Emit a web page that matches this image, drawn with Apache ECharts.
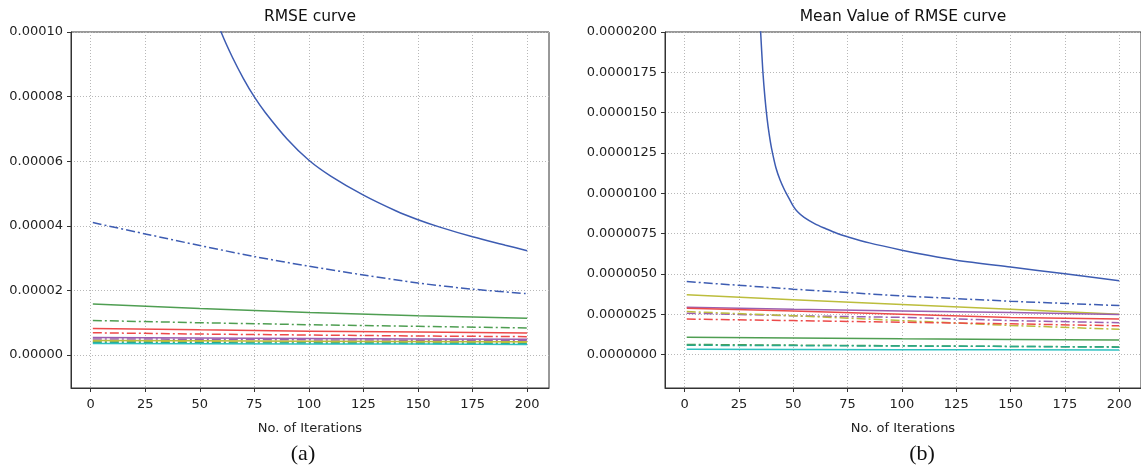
<!DOCTYPE html>
<html>
<head>
<meta charset="utf-8">
<script src="https://cdn.jsdelivr.net/npm/echarts@6/dist/echarts.min.js"></script>
<style>html,body{margin:0;padding:0;background:#fff}#c{width:1141px;height:470px}</style>
</head>
<body>
<div id="c"></div>
<script>
// ---------- data ----------
const xTicks = [0, 25, 50, 75, 100, 125, 150, 175, 200];
const leftYTicks = [0, 0.00002, 0.00004, 0.00006, 0.00008, 0.0001];
const rightYTicks = [0, 0.0000025, 0.000005, 0.0000075, 0.00001, 0.0000125, 0.000015, 0.0000175, 0.00002];

// (a) RMSE curve
const aBlueSolidX = [45, 50, 55, 60, 65, 70, 75, 80, 90, 100, 110, 125, 140, 150, 160, 175, 190, 200];
const aBlueSolidY = [0.0001324, 0.0001193, 0.0001086, 0.0000996, 0.0000921, 0.0000856, 0.0000799, 0.0000751, 0.0000669, 0.0000603, 0.0000554, 0.0000495, 0.0000446, 0.0000419, 0.0000396, 0.0000366, 0.000034, 0.0000323];
const aIterDash = [1, 25, 50, 75, 100, 125, 150, 175, 200];
const aBlueDashY = [0.000041, 0.0000375, 0.0000339, 0.0000305, 0.0000275, 0.0000248, 0.0000223, 0.0000204, 0.000019];
const aIter = [1, 50, 100, 150, 200];
const aGreenSolidY = [0.0000158, 0.0000144, 0.0000132, 0.0000122, 0.0000114];
const aGreenDashY = [0.0000107, 0.0000100, 0.0000094, 0.0000089, 0.0000084];
const aRedSolidY = [0.0000082, 0.0000078, 0.0000074, 0.0000071, 0.0000068];
const aRedDashY = [0.0000069, 0.0000065, 0.0000062, 0.0000059, 0.0000057];
const aPurpleSolidY = [0.0000054, 0.0000053, 0.0000051, 0.000005, 0.0000049];
const aPurpleDashY = [0.000005, 0.0000049, 0.0000047, 0.0000046, 0.0000045];
const aYellowSolidY = [0.0000045, 0.0000044, 0.0000043, 0.0000042, 0.0000041];
const aYellowDashY = [0.0000042, 0.0000041, 0.000004, 0.0000039, 0.0000038];
const aCyanDashY = [0.0000039, 0.0000038, 0.0000037, 0.0000036, 0.0000035];
const aCyanSolidY = [0.0000036, 0.0000035, 0.0000034, 0.0000034, 0.0000033];

// (b) Mean Value of RMSE curve
const bBlueSolidX = [33, 34, 35, 36, 37, 38, 39, 40, 42, 44, 46, 48, 50, 52, 55, 60, 65, 70, 75, 85, 100, 112, 125, 150, 175, 200];
const bBlueSolidY = [0.000025, 0.0000223, 0.00002, 0.0000176, 0.0000159, 0.0000146, 0.0000136, 0.0000128, 0.0000116, 0.0000108, 0.0000102, 0.0000097, 0.0000092, 0.00000885, 0.0000085, 0.0000081, 0.0000078, 0.00000752, 0.0000073, 0.00000692, 0.00000647, 0.00000615, 0.00000585, 0.00000542, 0.000005, 0.00000457];
const bIter = [1, 50, 100, 150, 200];
const bBlueDashY = [0.00000452, 0.00000405, 0.00000363, 0.0000033, 0.00000303];
const bYellowSolidY = [0.0000037, 0.0000034, 0.0000031, 0.0000028, 0.0000025];
const bPurpleSolidY = [0.00000293, 0.0000028, 0.0000027, 0.0000026, 0.00000248];
const bRedSolidY = [0.00000287, 0.0000027, 0.0000025, 0.0000023, 0.0000022];
const bPurpleDashY = [0.00000256, 0.0000024, 0.0000023, 0.0000021, 0.00000197];
const bYellowDashY = [0.00000266, 0.0000024, 0.0000021, 0.0000018, 0.00000156];
const bRedDashY = [0.0000022, 0.0000021, 0.000002, 0.0000019, 0.00000178];
const bGreenSolidY = [0.00000107, 0.00000102, 0.00000097, 0.00000093, 0.0000009];
const bGreenDashY = [0.00000062, 0.00000058, 0.00000054, 0.0000005, 0.00000047];
const bCyanDashY = [0.00000057, 0.00000055, 0.00000052, 0.0000005, 0.00000045];
const bCyanSolidY = [0.00000032, 0.00000031, 0.0000003, 0.00000029, 0.00000028];

// ---------- styles ----------
const C = {
  blue: '#3d5cb2', green: '#4f9e52', red: '#ec4a4a', purple: '#9b5fb0',
  yellow: '#bcbd3c', cyan: '#2ec0c0', teal: '#2aa88a'
};
const DASHDOT = [9, 3, 2, 3];
const FONT = 'DejaVu Sans';

function pairs(xs, ys) { return xs.map((x, i) => [x, ys[i]]); }
function line(gi, name, xs, ys, color, dash, smooth) {
  return {
    name, type: 'line', xAxisIndex: gi, yAxisIndex: gi,
    data: pairs(xs, ys), showSymbol: false, symbol: 'none',
    smooth: smooth ? 0.3 : false, clip: true,
    lineStyle: { color, width: 1.5, type: dash ? DASHDOT : 'solid' },
    z: 3, silent: true, animation: false
  };
}
function xAxis(gi) {
  return {
    type: 'value', gridIndex: gi, min: -9, max: 210,
    name: 'No. of Iterations', nameLocation: 'middle', nameGap: 34,
    nameTextStyle: { fontFamily: FONT, fontSize: 13, color: '#222' },
    axisLine: { show: true, onZero: false, lineStyle: { color: '#333', width: 1 } },
    axisTick: { show: true, length: 4, customValues: xTicks, lineStyle: { color: '#333' } },
    axisLabel: { customValues: xTicks, fontFamily: FONT, fontSize: 13, color: '#222', margin: 10 },
    splitLine: { show: true, lineStyle: { color: '#b8b8b8', type: [1, 2], width: 1 } }
  };
}
function yAxis(gi, min, max, ticks, dec) {
  return {
    type: 'value', gridIndex: gi, min, max,
    axisLine: { show: true, onZero: false, lineStyle: { color: '#333', width: 1 } },
    axisTick: { show: true, length: 4, customValues: ticks, lineStyle: { color: '#333' } },
    axisLabel: { customValues: ticks, fontFamily: FONT, fontSize: 13, color: '#222', margin: 8,
      formatter: v => Number(v).toFixed(dec) },
    splitLine: { show: true, lineStyle: { color: '#b8b8b8', type: [1, 2], width: 1 } }
  };
}

const series = [
  line(0, 'a-blue', aBlueSolidX, aBlueSolidY, C.blue, false, true),
  line(0, 'a-blue-d', aIterDash, aBlueDashY, C.blue, true, true),
  line(0, 'a-green', aIter, aGreenSolidY, C.green, false, false),
  line(0, 'a-green-d', aIter, aGreenDashY, C.green, true, false),
  line(0, 'a-red', aIter, aRedSolidY, C.red, false, false),
  line(0, 'a-red-d', aIter, aRedDashY, C.red, true, false),
  line(0, 'a-purple', aIter, aPurpleSolidY, C.purple, false, false),
  line(0, 'a-purple-d', aIter, aPurpleDashY, C.purple, true, false),
  line(0, 'a-yellow', aIter, aYellowSolidY, C.yellow, false, false),
  line(0, 'a-yellow-d', aIter, aYellowDashY, C.yellow, true, false),
  line(0, 'a-cyan-d', aIter, aCyanDashY, C.teal, true, false),
  line(0, 'a-cyan', aIter, aCyanSolidY, C.cyan, false, false),

  line(1, 'b-blue', bBlueSolidX, bBlueSolidY, C.blue, false, true),
  line(1, 'b-blue-d', bIter, bBlueDashY, C.blue, true, false),
  line(1, 'b-yellow', bIter, bYellowSolidY, C.yellow, false, false),
  line(1, 'b-purple', bIter, bPurpleSolidY, C.purple, false, false),
  line(1, 'b-red', bIter, bRedSolidY, C.red, false, false),
  line(1, 'b-purple-d', bIter, bPurpleDashY, C.purple, true, false),
  line(1, 'b-yellow-d', bIter, bYellowDashY, C.yellow, true, false),
  line(1, 'b-red-d', bIter, bRedDashY, C.red, true, false),
  line(1, 'b-green', bIter, bGreenSolidY, C.green, false, false),
  line(1, 'b-green-d', bIter, bGreenDashY, C.green, true, false),
  line(1, 'b-cyan-d', bIter, bCyanDashY, C.teal, true, false),
  line(1, 'b-cyan', bIter, bCyanSolidY, C.cyan, false, false)
];

const chart = echarts.init(document.getElementById('c'), null, { renderer: 'canvas' });
chart.setOption({
  animation: false,
  backgroundColor: '#fff',
  grid: [
    { left: 71, top: 32, width: 478, height: 356, show: true, borderColor: '#333', borderWidth: 1, backgroundColor: 'transparent' },
    { left: 665, top: 32, width: 476, height: 356, show: true, borderColor: '#333', borderWidth: 1, backgroundColor: 'transparent' }
  ],
  xAxis: [xAxis(0), xAxis(1)],
  yAxis: [yAxis(0, -0.0000102, 0.0001, leftYTicks, 5), yAxis(1, -0.00000208, 0.00002, rightYTicks, 7)],
  series,
  graphic: [
    { type: 'text', x: 310, y: 17, style: { text: 'RMSE curve', font: '15.5px "DejaVu Sans"', fill: '#111', textAlign: 'center', textVerticalAlign: 'middle' } },
    { type: 'text', x: 903, y: 17, style: { text: 'Mean Value of RMSE curve', font: '15.5px "DejaVu Sans"', fill: '#111', textAlign: 'center', textVerticalAlign: 'middle' } },
    { type: 'text', x: 303, y: 454, style: { text: '(a)', font: '22px "Liberation Serif"', fill: '#111', textAlign: 'center', textVerticalAlign: 'middle' } },
    { type: 'text', x: 922, y: 454, style: { text: '(b)', font: '22px "Liberation Serif"', fill: '#111', textAlign: 'center', textVerticalAlign: 'middle' } }
  ]
});
</script>
</body>
</html>
